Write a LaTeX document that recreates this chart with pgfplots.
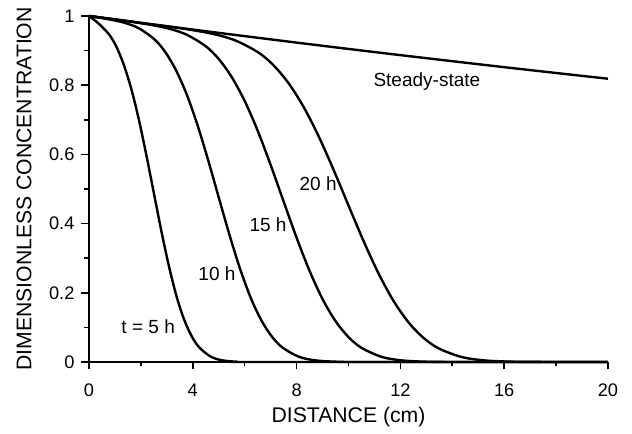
\documentclass[border=0pt]{standalone}
\usepackage{fontspec}
\setmainfont{Liberation Sans}
\usepackage{pgfplots}
\pgfplotsset{compat=1.18}

\begin{document}
\begin{tikzpicture}
  \begin{axis}[
    scale only axis,
    width=259.5pt, height=173pt,
    axis x line*=bottom,
    axis y line*=left,
    axis line style={line width=0.9pt},
    xmin=0, xmax=20,
    ymin=0, ymax=1,
    xtick={0,4,8,12,16,20},
    ytick={0,0.2,0.4,0.6,0.8,1},
    minor x tick num=1,
    minor y tick num=1,
    tick align=outside,
    major tick length=3.75pt,
    minor tick length=2.25pt,
    tick style={line width=0.8pt, black},
    /pgf/number format/assume math mode=true,
    tick label style={font=\fontsize{9.1}{10}\selectfont},
    xticklabel style={yshift=-3.5pt},
    label style={font=\fontsize{10.6}{12}\selectfont},
    xlabel={DISTANCE (cm)},
    ylabel={DIMENSIONLESS CONCENTRATION},
    xlabel style={at={(axis description cs:0.5,0)}, anchor=center, yshift=-27.5pt},
    ylabel style={at={(axis description cs:0,0.5)}, anchor=center, yshift=32.5pt},
    clip=false,
  ]
    \pgfplotsset{every axis plot/.style={black, line width=1.2pt, no marks, smooth, tension=0.5}}
    % steady-state
    \addplot[black] coordinates {
      (0,1) (2,0.9802) (4,0.9608) (6,0.9418) (8,0.9231) (10,0.9048)
      (12,0.8869) (14,0.8694) (16,0.8521) (18,0.8353) (20,0.8187)
    };
    % t = 5 h
    \addplot[black] coordinates {
      (0,1) (0.327,0.981) (0.761,0.948) (1.051,0.912) (1.341,0.859)
      (1.631,0.789) (1.920,0.701) (2.210,0.598) (2.500,0.488) (2.790,0.378)
      (3.080,0.277) (3.369,0.191) (3.659,0.124) (3.949,0.0756) (4.239,0.0430)
      (4.674,0.0162) (5.108,0.0052) (5.688,0.0009) (6.557,0.0000) (20,0)
    };
    % t = 10 h
    \addplot[black] coordinates {
      (0,1) (0.5,0.994) (1.312,0.9816) (1.927,0.9643) (2.541,0.9312)
      (2.951,0.8946) (3.361,0.8422) (3.771,0.7723) (4.180,0.6850) (4.590,0.5839)
      (5.000,0.4756) (5.410,0.3682) (5.820,0.2697) (6.229,0.1861) (6.639,0.1207)
      (7.049,0.0733) (7.459,0.0416) (8.074,0.0156) (8.688,0.0050) (9.508,0.0009)
      (10.737,0.0000) (20,0)
    };
    % t = 15 h
    \addplot[black] coordinates {
      (0,1) (1,0.990) (1.978,0.9795) (2.982,0.9653) (3.735,0.9470)
      (4.488,0.9132) (4.990,0.8765) (5.492,0.8245) (5.994,0.7553) (6.496,0.6693)
      (6.998,0.5700) (7.500,0.4639) (8.002,0.3588) (8.504,0.2625) (9.006,0.1810)
      (9.508,0.1173) (10.010,0.0712) (10.512,0.0404) (11.265,0.0151) (12.018,0.0049)
      (13.022,0.0008) (14.528,0.0000) (20,0)
    };
    % t = 20 h
    \addplot[black] coordinates {
      (0,1) (1,0.990) (2,0.980) (3.624,0.9635) (4.784,0.9481)
      (5.653,0.9289) (6.522,0.8948) (7.102,0.8583) (7.682,0.8067) (8.261,0.7384)
      (8.841,0.6538) (9.420,0.5564) (10.000,0.4524) (10.580,0.3497) (11.159,0.2556)
      (11.739,0.1761) (12.318,0.1140) (12.898,0.0692) (13.478,0.0392) (14.347,0.0147)
      (15.216,0.0047) (16.376,0.0008) (18.114,0.0000) (20,0)
    };
    \begin{scope}[every node/.style={font=\fontsize{9.5}{11}\selectfont, inner sep=0pt}]
      \node at (axis cs:13.02,0.809) {Steady-state};
      \node at (axis cs:8.83,0.514) {20 h};
      \node at (axis cs:6.9,0.396) {15 h};
      \node at (axis cs:4.93,0.254) {10 h};
      \node at (axis cs:2.28,0.101) {t = 5 h};
    \end{scope}
  \end{axis}
  \path (current axis.south west) ++(-44.5pt,-35.5pt)
    rectangle ([shift={(12pt,8pt)}]current axis.north east);
\end{tikzpicture}
\end{document}
